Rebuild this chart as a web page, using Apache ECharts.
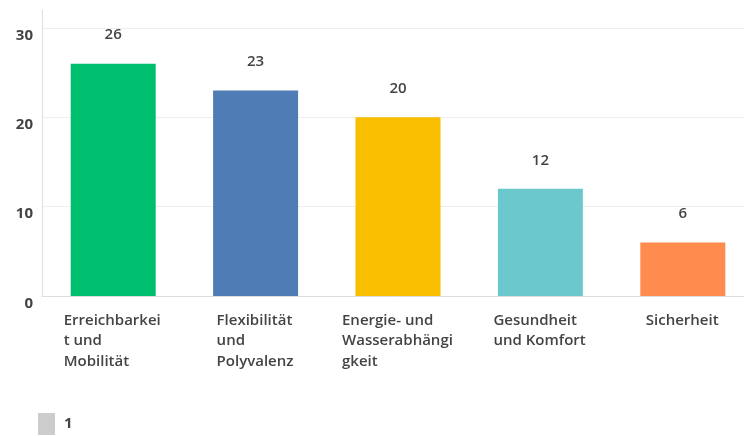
<!DOCTYPE html>
<html>
<head>
<meta charset="utf-8">
<script src="https://cdn.jsdelivr.net/npm/echarts@6/dist/echarts.min.js"></script>
<style>
  html, body { margin: 0; padding: 0; background: #fff; }
  #chart { width: 744px; height: 436px; }
</style>
</head>
<body>
<div id="chart"></div>
<script>
// Survey answers: number of mentions per topic
const categories = [
  'Erreichbarkeit und Mobilität',
  'Flexibilität und Polyvalenz',
  'Energie- und Wasserabhängigkeit',
  'Gesundheit und Komfort',
  'Sicherheit'
];
const tickLabels = [
  'Erreichbarkei\nt und\nMobilität',
  'Flexibilität\nund\nPolyvalenz',
  'Energie- und\nWasserabhängi\ngkeit',
  'Gesundheit\nund Komfort',
  'Sicherheit'
];
const values = [26, 23, 20, 12, 6];
const seriesName = '1';

const barColors = ['#00bf6f', '#507cb6', '#f9be00', '#6bc8cd', '#ff8b4f'];
const FONT = '"Open Sans", "Noto Sans", sans-serif';
const textColor = '#444444';

// Measure each wrapped label so its lines can be left-aligned inside a block
// that is itself centred under the bar.
const measureCtx = document.createElement('canvas').getContext('2d');
measureCtx.font = '600 15px "Open Sans"';
const rich = {};
tickLabels.forEach((txt, i) => {
  const w = Math.max(...txt.split('\n').map(l => measureCtx.measureText(l).width));
  rich['c' + i] = {
    width: Math.ceil(w) + 1,
    align: 'left',
    fontFamily: FONT,
    fontSize: 15,
    fontWeight: 600,
    lineHeight: 20.5,
    color: textColor
  };
});

const chart = echarts.init(document.getElementById('chart'), null, { renderer: 'canvas' });

chart.setOption({
  animation: false,
  backgroundColor: '#ffffff',
  textStyle: { fontFamily: FONT },
  // the plot runs a little past the right edge of the canvas
  grid: { left: 42, right: -10, top: 10, bottom: 140, containLabel: false, outerBoundsMode: 'none' },
  legend: {
    left: 38,
    top: 413,
    padding: 0,
    icon: 'rect',
    itemWidth: 17,
    itemHeight: 22,
    selectedMode: false,
    data: [{ name: seriesName, itemStyle: { color: '#cccccc' } }],
    textStyle: {
      fontFamily: FONT,
      fontSize: 15,
      fontWeight: 700,
      color: textColor,
      padding: [0, 0, 0, 4]
    }
  },
  xAxis: {
    type: 'category',
    data: categories,
    axisLine: { show: true, lineStyle: { color: '#dddddd', width: 1 } },
    axisTick: { show: false },
    axisLabel: {
      interval: 0,
      margin: 14,
      align: 'center',
      verticalAlign: 'top',
      formatter: (value, idx) =>
        tickLabels[idx].split('\n').map(l => '{c' + idx + '|' + l + '}').join('\n'),
      rich: rich
    }
  },
  yAxis: {
    type: 'value',
    min: 0,
    max: 32,
    interval: 10,
    axisLine: { show: true, lineStyle: { color: '#dddddd', width: 1 } },
    axisTick: { show: false },
    splitLine: {
      show: true,
      lineStyle: { color: ['#eeeeee', '#eeeeee', '#eeeeee', '#eeeeee', 'rgba(0,0,0,0)'], width: 1 }
    },
    axisLabel: {
      showMaxLabel: false,
      margin: 9,
      verticalAlign: 'top',
      fontFamily: FONT,
      fontSize: 15,
      fontWeight: 700,
      color: textColor
    }
  },
  series: [{
    name: seriesName,
    type: 'bar',
    barWidth: 85,
    data: values.map((v, i) => ({ value: v, itemStyle: { color: barColors[i] } })),
    itemStyle: { color: '#cccccc' },
    label: {
      show: true,
      position: 'top',
      distance: 21,
      fontFamily: FONT,
      fontSize: 15,
      fontWeight: 600,
      color: textColor
    }
  }]
});
</script>
</body>
</html>
